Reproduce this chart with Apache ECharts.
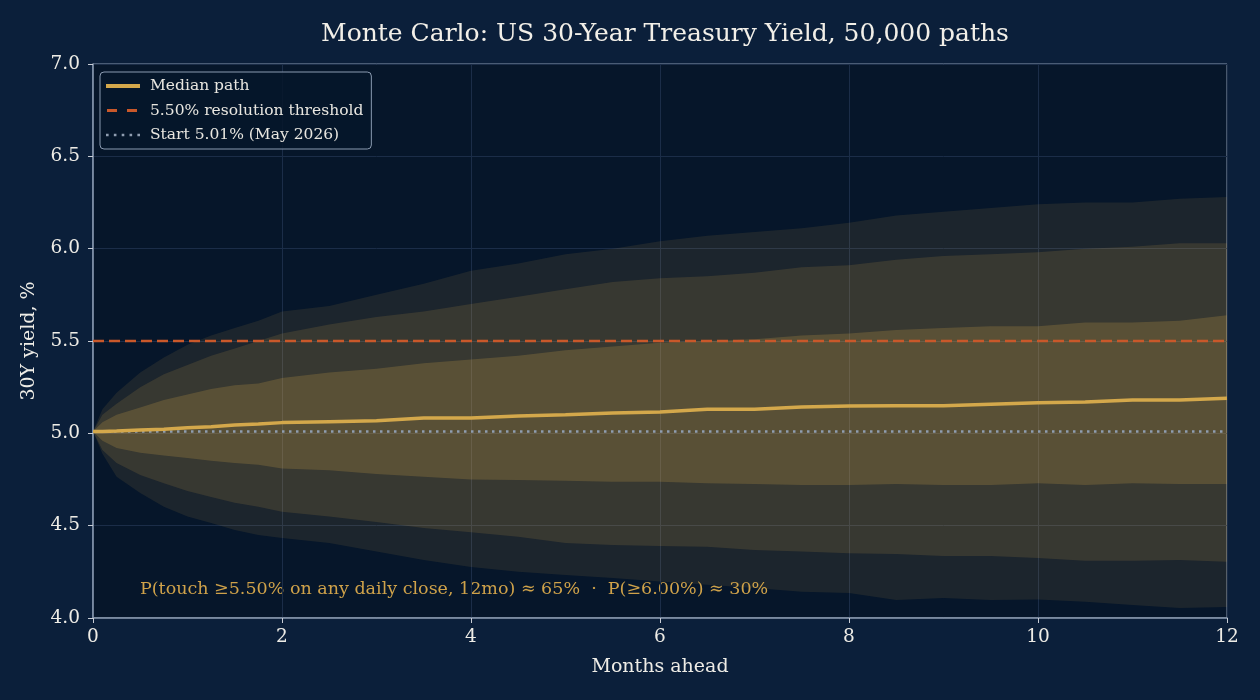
<!DOCTYPE html>
<html>
<head>
<meta charset="utf-8">
<title>Monte Carlo: US 30-Year Treasury Yield</title>
<script src="https://cdn.jsdelivr.net/npm/echarts@6/dist/echarts.min.js"></script>
<style>
  html, body { margin: 0; padding: 0; background: #0b1f3a; }
  #chart { width: 1260px; height: 700px; }
</style>
</head>
<body>
<div id="chart"></div>
<script>
  // months ahead
  var months = [0, 0.1, 0.25, 0.5, 0.75, 1, 1.25, 1.5, 1.75, 2, 2.5, 3, 3.5, 4, 4.5, 5, 5.5, 6, 6.5, 7, 7.5, 8, 8.5, 9, 9.5, 10, 10.5, 11, 11.5, 12]
  // percentile bands of the simulated paths (30Y yield, %)
  var p95 = [5.01, 5.13, 5.22, 5.33, 5.41, 5.48, 5.53, 5.57, 5.61, 5.66, 5.69, 5.75, 5.81, 5.88, 5.92, 5.97, 6.00, 6.04, 6.07, 6.09, 6.11, 6.14, 6.18, 6.20, 6.22, 6.24, 6.25, 6.25, 6.27, 6.28]
  var p90 = [5.01, 5.10, 5.16, 5.25, 5.32, 5.37, 5.42, 5.46, 5.50, 5.54, 5.59, 5.63, 5.66, 5.70, 5.74, 5.78, 5.82, 5.84, 5.85, 5.87, 5.90, 5.91, 5.94, 5.96, 5.97, 5.98, 6.00, 6.01, 6.03, 6.03]
  var p75 = [5.01, 5.06, 5.10, 5.14, 5.18, 5.21, 5.24, 5.26, 5.27, 5.30, 5.33, 5.35, 5.38, 5.40, 5.42, 5.45, 5.47, 5.49, 5.50, 5.51, 5.53, 5.54, 5.56, 5.57, 5.58, 5.58, 5.60, 5.60, 5.61, 5.64]
  var median = [5.01, 5.01, 5.012, 5.018, 5.022, 5.03, 5.036, 5.045, 5.05, 5.058, 5.063, 5.068, 5.083, 5.083, 5.094, 5.10, 5.11, 5.115, 5.13, 5.13, 5.143, 5.148, 5.15, 5.15, 5.158, 5.166, 5.17, 5.18, 5.18, 5.19]
  var p25 = [5.01, 4.96, 4.92, 4.895, 4.88, 4.866, 4.852, 4.84, 4.83, 4.81, 4.80, 4.78, 4.765, 4.75, 4.747, 4.743, 4.738, 4.738, 4.73, 4.726, 4.72, 4.72, 4.726, 4.72, 4.72, 4.73, 4.72, 4.73, 4.726, 4.726]
  var p10 = [5.01, 4.91, 4.84, 4.774, 4.73, 4.688, 4.655, 4.624, 4.603, 4.576, 4.549, 4.52, 4.487, 4.465, 4.44, 4.406, 4.395, 4.39, 4.386, 4.368, 4.36, 4.35, 4.347, 4.336, 4.336, 4.325, 4.31, 4.31, 4.314, 4.305]
  var p5 = [5.01, 4.89, 4.765, 4.677, 4.603, 4.549, 4.514, 4.477, 4.45, 4.433, 4.406, 4.36, 4.314, 4.276, 4.25, 4.233, 4.217, 4.197, 4.18, 4.162, 4.142, 4.135, 4.097, 4.108, 4.097, 4.10, 4.088, 4.07, 4.054, 4.06]

  var threshold = 5.50
  var startYield = 5.01

  var FONT = 'DejaVu Serif'
  var GOLD = '#d4a84b'
  var ORANGE = '#c9582a'
  var SLATE = '#8f9db0'

  // filled band between two percentile curves
  function band (name, lo, hi, color) {
    return {
      name: name,
      type: 'custom',
      silent: true,
      clip: true,
      data: [[months[0], hi[0]]],
      renderItem: function (params, api) {
        var pts = []
        for (var i = 0; i < months.length; i++) pts.push(api.coord([months[i], hi[i]]))
        for (var j = months.length - 1; j >= 0; j--) pts.push(api.coord([months[j], lo[j]]))
        return { type: 'polygon', shape: { points: pts }, style: { fill: color } }
      }
    }
  }

  function pairs (ys) {
    return months.map(function (m, i) { return [m, ys[i]] })
  }

  var chart = echarts.init(document.getElementById('chart'))
  var option = {
    backgroundColor: '#0b1f3a',
    animation: false,
    textStyle: { fontFamily: FONT },
    title: {
      text: 'Monte Carlo: US 30-Year Treasury Yield, 50,000 paths',
      left: 660,
      textAlign: 'center',
      top: 17,
      textStyle: { color: '#f2efe8', fontSize: 25, fontWeight: 'normal', fontFamily: FONT }
    },
    grid: {
      left: 93, right: 33, top: 64, bottom: 82,
      show: true,
      backgroundColor: '#06162a',
      borderColor: '#8a9ab0',
      borderWidth: 1
    },
    legend: {
      left: 100, top: 72,
      orient: 'vertical',
      padding: [6, 8, 6, 6],
      itemWidth: 34, itemHeight: 14, itemGap: 8.5,
      backgroundColor: 'rgba(6,22,42,0.85)',
      borderColor: '#8a9ab0',
      borderWidth: 1,
      borderRadius: 4,
      data: [
        { name: 'Median path', icon: 'path://M0,0h34v4h-34z' },
        { name: '5.50% resolution threshold', icon: 'path://M1,0h10v3h-10zM21,0h10v3h-10zM0,0h0.01v3h-0.01zM33.99,0h0.01v3h-0.01z' },
        { name: 'Start 5.01% (May 2026)', icon: 'path://M1,0h2.5v2.5h-2.5zM8.5,0h2.5v2.5h-2.5zM16,0h2.5v2.5h-2.5zM23.5,0h2.5v2.5h-2.5zM31,0h2.5v2.5h-2.5z' }
      ],
      textStyle: { color: '#e8e6e0', fontSize: 15.5, lineHeight: 14, fontFamily: FONT, padding: [0, 0, 0, 5] }
    },
    xAxis: {
      type: 'value',
      min: 0, max: 12, interval: 2,
      name: 'Months ahead',
      nameLocation: 'middle',
      nameGap: 40,
      nameTextStyle: { color: '#eeece6', fontSize: 19, fontFamily: FONT },
      axisLine: { lineStyle: { color: '#8a9ab0', width: 1.5 } },
      axisTick: { show: true, length: 5, lineStyle: { color: '#c8ccd4' } },
      axisLabel: { color: '#eeece6', fontSize: 18.5, margin: 10, fontFamily: FONT },
      splitLine: { show: true, lineStyle: { color: '#1b2d48', width: 1 } }
    },
    yAxis: {
      type: 'value',
      min: 4, max: 7, interval: 0.5,
      name: '30Y yield, %',
      nameLocation: 'middle',
      nameGap: 54,
      nameTextStyle: { color: '#eeece6', fontSize: 19, fontFamily: FONT },
      axisLine: { show: true, lineStyle: { color: '#8a9ab0', width: 1.5 } },
      axisTick: { show: true, length: 5, lineStyle: { color: '#c8ccd4' } },
      axisLabel: {
        color: '#eeece6', fontSize: 18.5, margin: 13, fontFamily: FONT,
        formatter: function (v) { return v.toFixed(1) }
      },
      splitLine: { show: true, lineStyle: { color: '#1b2d48', width: 1 } }
    },
    series: [
      band('p5-p95', p5, p95, 'rgba(212,168,75,0.11)'),
      band('p10-p90', p10, p90, 'rgba(212,168,75,0.15)'),
      band('p25-p75', p25, p75, 'rgba(212,168,75,0.22)'),
      {
        name: '5.50% resolution threshold',
        type: 'line',
        symbol: 'none',
        data: [[0, threshold], [12, threshold]],
        lineStyle: { color: ORANGE, width: 2.5, type: [11, 5] },
        itemStyle: { color: ORANGE },
        z: 3
      },
      {
        name: 'Start 5.01% (May 2026)',
        type: 'line',
        symbol: 'none',
        data: [[0, startYield], [12, startYield]],
        lineStyle: { color: SLATE, width: 2.5, type: [2.5, 4.5] },
        itemStyle: { color: SLATE },
        z: 3
      },
      {
        name: 'Median path',
        type: 'line',
        symbol: 'none',
        data: pairs(median),
        lineStyle: { color: GOLD, width: 3.5 },
        itemStyle: { color: GOLD },
        z: 4
      }
    ],
    graphic: [
      {
        type: 'text',
        left: 140,
        top: 580,
        style: {
          text: 'P(touch \u22655.50% on any daily close, 12mo) \u2248 65%  \u00b7  P(\u22656.00%) \u2248 30%',
          fill: '#cfa24a',
          font: '17.5px "DejaVu Serif"'
        }
      }
    ]
  }
  chart.setOption(option)
</script>
</body>
</html>
